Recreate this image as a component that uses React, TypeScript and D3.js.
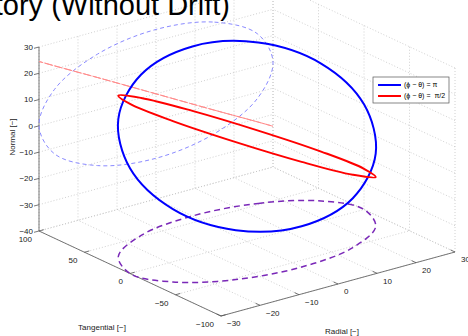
import React, { useEffect, useRef } from "react";
import * as d3 from "d3";

const radialTicks = [-30, -20, -10, 0, 10, 20, 30];
const tangentialTicks = [-100, -50, 0, 50, 100];
const normalTicks = [-40, -30, -20, -10, 0, 10, 20, 30];

// orbit read every 30 deg of phase
const orbitRadial = [0, 15, 26, 30, 26, 15, 0, -15, -26, -30, -26, -15];
const orbitTangential = [60, 52, 30, 0, -30, -52, -60, -52, -30, 0, 30, 52];
const normalPi = [24.5, 21.2, 12.3, 0, -12.3, -21.2, -24.5, -21.2, -12.3, 0, 12.3, 21.2];
const normalHalfPi = [0, -12.3, -21.2, -24.5, -21.2, -12.3, 0, 12.3, 21.2, 24.5, 21.2, 12.3];

const legendLabels = ["(\u03d5 \u2212 \u03b8) = \u03c0", "(\u03d5 \u2212 \u03b8) =  \u03c0/2"];
const titleText = "Relative Trajectory (Without Drift)";

const font = "'Liberation Sans', Arial, Helvetica, sans-serif";
const fmt = (v: number) => (v < 0 ? "\u2212" + Math.abs(v) : String(v));

export default function App() {
  const ref = useRef<SVGSVGElement>(null);

  useEffect(() => {
    const svg = d3.select(ref.current);
    svg.selectAll("*").remove();

    // box: floor corner (r=-30, t=-100, z=-40) and edge vectors in px
    const ru = d3.scaleLinear().domain([-30, 30]).range([0, 1]);
    const tv = d3.scaleLinear().domain([-100, 100]).range([0, 1]);
    const zw = d3.scaleLinear().domain([-40, 30]).range([0, 1]);
    const A = [221, 316];
    const U = [234, -64];
    const V = [-182, -85];
    const H = 184;
    const proj = (r: number, t: number, z: number): [number, number] => [
      A[0] + ru(r) * U[0] + tv(t) * V[0],
      A[1] + ru(r) * U[1] + tv(t) * V[1] - zw(z) * H,
    ];

    const g = svg.append("g");
    const seg = (p: [number, number], q: [number, number]) =>
      g.append("line").attr("x1", p[0]).attr("y1", p[1]).attr("x2", q[0]).attr("y2", q[1]);

    // grid on floor and the two back walls
    const grid = (p: [number, number], q: [number, number]) =>
      seg(p, q).attr("stroke", "#c4c4c4").attr("stroke-width", 0.8).attr("stroke-dasharray", "1,2");
    const [rMin, rMax] = ru.domain();
    const [tMin, tMax] = tv.domain();
    const [zMin, zMax] = zw.domain();
    radialTicks.forEach((r) => {
      grid(proj(r, tMin, zMin), proj(r, tMax, zMin));
      grid(proj(r, tMax, zMin), proj(r, tMax, zMax));
    });
    tangentialTicks.forEach((t) => {
      grid(proj(rMin, t, zMin), proj(rMax, t, zMin));
      grid(proj(rMax, t, zMin), proj(rMax, t, zMax));
    });
    normalTicks.forEach((z) => {
      grid(proj(rMin, tMax, z), proj(rMax, tMax, z));
      grid(proj(rMax, tMin, z), proj(rMax, tMax, z));
    });

    // axes
    const axisColor = "#555";
    const axis = (p: [number, number], q: [number, number]) =>
      seg(p, q).attr("stroke", axisColor).attr("stroke-width", 0.8);
    axis(proj(rMin, tMin, zMin), proj(rMin, tMax, zMin));
    axis(proj(rMin, tMin, zMin), proj(rMax, tMin, zMin));
    axis(proj(rMin, tMax, zMin), proj(rMin, tMax, zMax));

    const tickText = (x: number, y: number, s: string, anchor: string) =>
      g.append("text")
        .attr("x", x)
        .attr("y", y)
        .attr("dy", "0.35em")
        .attr("text-anchor", anchor)
        .attr("font-family", font)
        .attr("font-size", 8)
        .attr("fill", "#222")
        .text(s);

    normalTicks.forEach((z) => {
      const p = proj(rMin, tMax, z);
      axis(p, [p[0] - 5, p[1] + 1.3]);
      tickText(p[0] - 6, p[1], fmt(z), "end");
    });
    tangentialTicks.forEach((t) => {
      const p = proj(rMin, t, zMin);
      axis(p, [p[0] + 4.8, p[1] - 1.3]);
      tickText(p[0] - 7, p[1] + 8, fmt(t), "end");
    });
    radialTicks.forEach((r) => {
      const p = proj(r, tMin, zMin);
      axis(p, [p[0] - 4.5, p[1] - 2.1]);
      tickText(p[0] + 6, p[1] + 7.5, fmt(r), "start");
    });

    const axisTitle = (x: number, y: number, s: string, rot = 0) =>
      g.append("text")
        .attr("transform", `translate(${x},${y}) rotate(${rot})`)
        .attr("text-anchor", "middle")
        .attr("dy", "0.35em")
        .attr("font-family", font)
        .attr("font-size", 8)
        .attr("fill", "#222")
        .text(s);
    axisTitle(102, 327, "Tangential [\u2212]");
    axisTitle(342, 331, "Radial [\u2212]");
    axisTitle(12, 137, "Normal [\u2212]", -90);

    // curves
    const line = d3.line<[number, number]>().curve(d3.curveCatmullRomClosed.alpha(0.5));
    const path = (pts: [number, number][], color: string, width: number, dash?: string) => {
      const p = g.append("path")
        .attr("d", line(pts))
        .attr("fill", "none")
        .attr("stroke", color)
        .attr("stroke-width", width)
        .attr("stroke-linejoin", "round");
      if (dash) p.attr("stroke-dasharray", dash);
      return p;
    };

    const idx = d3.range(orbitRadial.length);
    path(idx.map((i) => proj(orbitRadial[i], orbitTangential[i], zMin)), "#7a28b8", 1.5, "6,4");
    path(idx.map((i) => proj(orbitRadial[i], tMax, normalPi[i])), "#8a8aff", 1, "4,3");
    path(idx.map((i) => proj(orbitRadial[i], tMax, normalHalfPi[i])), "#ff8c8c", 1, "8,2");
    path(idx.map((i) => proj(orbitRadial[i], orbitTangential[i], normalPi[i])), "#0000ff", 2);
    path(idx.map((i) => proj(orbitRadial[i], orbitTangential[i], normalHalfPi[i])), "#ff0000", 2);

    // legend
    const lg = g.append("g").attr("transform", "translate(373,77)");
    lg.append("rect")
      .attr("width", 76)
      .attr("height", 26)
      .attr("fill", "#fff")
      .attr("stroke", "#555")
      .attr("stroke-width", 0.7);
    ["#0000ff", "#ff0000"].forEach((c, i) => {
      const y = 8 + i * 11;
      lg.append("line").attr("x1", 5).attr("x2", 28).attr("y1", y).attr("y2", y)
        .attr("stroke", c).attr("stroke-width", 2);
      lg.append("text")
        .attr("x", 31)
        .attr("y", y)
        .attr("dy", "0.35em")
        .attr("font-family", font)
        .attr("font-size", 7)
        .attr("xml:space", "preserve")
        .style("white-space", "pre")
        .text(legendLabels[i]);
    });

    // title, cut off at the top left as in the figure
    g.append("text")
      .attr("x", 230)
      .attr("y", 15)
      .attr("text-anchor", "end")
      .attr("font-family", font)
      .attr("font-size", 29)
      .text(titleText);
  }, []);

  return (
    <svg
      ref={ref}
      width={468}
      height={336}
      style={{ position: "absolute", left: 0, top: 0, background: "#fff" }}
    />
  );
}
